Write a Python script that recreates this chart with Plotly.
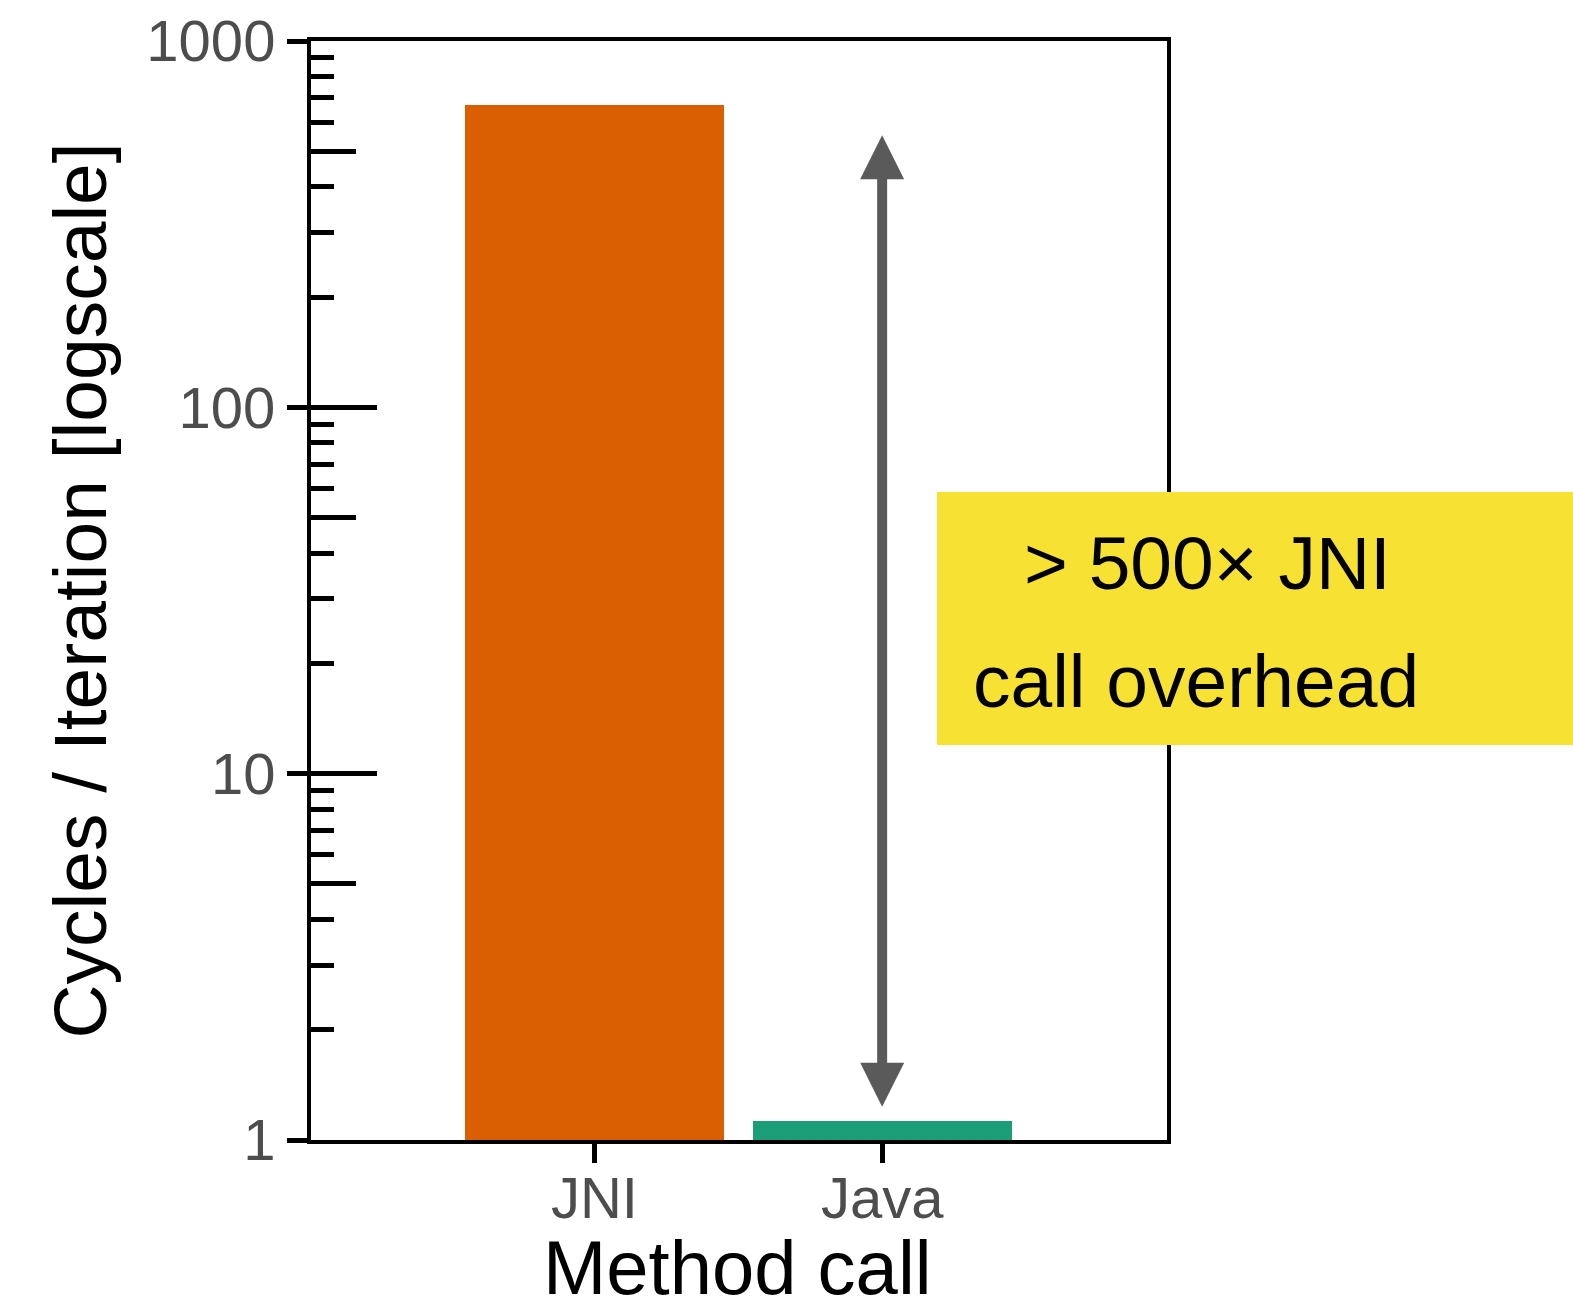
import math
import plotly.graph_objects as go

# Cycles per iteration for each kind of method call
methods = ["JNI", "Java"]
cycles = [669, 1.13]
bar_colors = ["#D95F02", "#1B9E77"]

# Labelled decades on the log axis
major_vals = [1, 10, 100, 1000]
major_text = ["1", "10", "100", "1000"]
# Half-decade marks (drawn a bit longer than the other minor marks)
half_vals = [5, 50, 500]

# Span of the overhead arrow (cycles)
arrow_span = [1.22, 553]

# Call-out note, one entry per line
note_lines = ["&gt; 500× JNI", "call overhead"]

x_title = "Method call"
y_title = "Cycles / Iteration [logscale]"

FONT = "Liberation Sans"
W, H = 1573, 1309
L, R, T, B = 311, 406, 41, 169
PW, PH = W - L - R, H - T - B


def px_x(px):
    """Page x pixel -> paper fraction."""
    return (px - L) / PW


def px_y(py):
    """Page y pixel -> paper fraction."""
    return (H - B - py) / PH


fig = go.Figure()
fig.add_trace(go.Bar(
    x=methods, y=cycles, width=0.9,
    marker=dict(color=bar_colors, line=dict(width=0)),
    showlegend=False,
))

yrange = [math.log10(major_vals[0]), math.log10(major_vals[-1])]

fig.update_layout(
    width=W, height=H,
    margin=dict(l=L, r=R, t=T, b=B, autoexpand=False),
    paper_bgcolor="white", plot_bgcolor="white",
    font=dict(family=FONT, color="black"),
    bargap=0,
    xaxis=dict(
        type="category", range=[-0.985, 1.99],
        showline=True, linecolor="black", linewidth=4, mirror=True,
        ticks="outside", ticklen=19, tickwidth=5, tickcolor="black",
        tickfont=dict(size=58, color="#4D4D4D", family=FONT),
        ticklabelstandoff=-15,
        showgrid=False, zeroline=False,
        layer="below traces",
    ),
    yaxis=dict(
        type="log", range=yrange,
        showline=True, linecolor="black", linewidth=4, mirror=True,
        ticks="outside", ticklen=20, tickwidth=5, tickcolor="black",
        tickvals=major_vals, ticktext=major_text,
        tickfont=dict(size=58, color="#4D4D4D", family=FONT),
        ticklabelstandoff=0,
        showgrid=False, zeroline=False,
        title=dict(text=y_title, font=dict(size=75, color="black", family=FONT), standoff=16),
    ),
    # Inner log ticks: long marks at decades plus short marks at every digit
    yaxis2=dict(
        type="log", range=yrange, overlaying="y", anchor="x", side="left",
        showline=False, showgrid=False, zeroline=False, showticklabels=False,
        ticks="inside", ticklen=66, tickwidth=5, tickcolor="black",
        tickvals=major_vals,
        minor=dict(dtick="D1", ticks="inside", ticklen=23, tickwidth=5, tickcolor="black", showgrid=False),
    ),
    # Inner log ticks: medium marks at the halves of each decade
    yaxis3=dict(
        type="log", range=yrange, overlaying="y", anchor="x", side="left",
        showline=False, showgrid=False, zeroline=False, showticklabels=False,
        ticks="inside", ticklen=45, tickwidth=5, tickcolor="black",
        tickvals=half_vals,
    ),
)

# invisible traces so the overlay axes get drawn
for ax_name in ("y2", "y3"):
    fig.add_trace(go.Scatter(x=[methods[0]], y=[1], yaxis=ax_name, mode="markers",
                             marker=dict(opacity=0), showlegend=False, hoverinfo="skip"))

# x-axis title, placed below the category labels
fig.add_annotation(
    xref="paper", yref="paper", x=px_x(737), y=px_y(1267),
    text=x_title, showarrow=False, xanchor="center", yanchor="middle",
    font=dict(family=FONT, size=76, color="black"),
)

# Double-headed arrow showing the gap between the two bars
fig.add_annotation(
    x=1, y=math.log10(arrow_span[1]), ax=1, ay=math.log10(arrow_span[0]),
    xref="x", yref="y", axref="x", ayref="y",
    text="", showarrow=True,
    arrowhead=2, startarrowhead=2, arrowside="end+start",
    arrowsize=0.88, startarrowsize=0.88, arrowwidth=10, arrowcolor="#5A5A5A",
)

# Yellow call-out box with the overhead note
fig.add_shape(type="rect", xref="paper", yref="paper",
              x0=px_x(937), x1=1.5, y0=px_y(745), y1=px_y(492),
              fillcolor="#F7E233", line=dict(width=0), layer="above")
for line, cx, cy in zip(note_lines, (1207, 1196), (563, 681)):
    fig.add_annotation(
        xref="paper", yref="paper", x=px_x(cx), y=px_y(cy),
        text=line, showarrow=False, xanchor="center", yanchor="middle",
        font=dict(family=FONT, size=75, color="black"),
    )

fig.write_html("out.html")
